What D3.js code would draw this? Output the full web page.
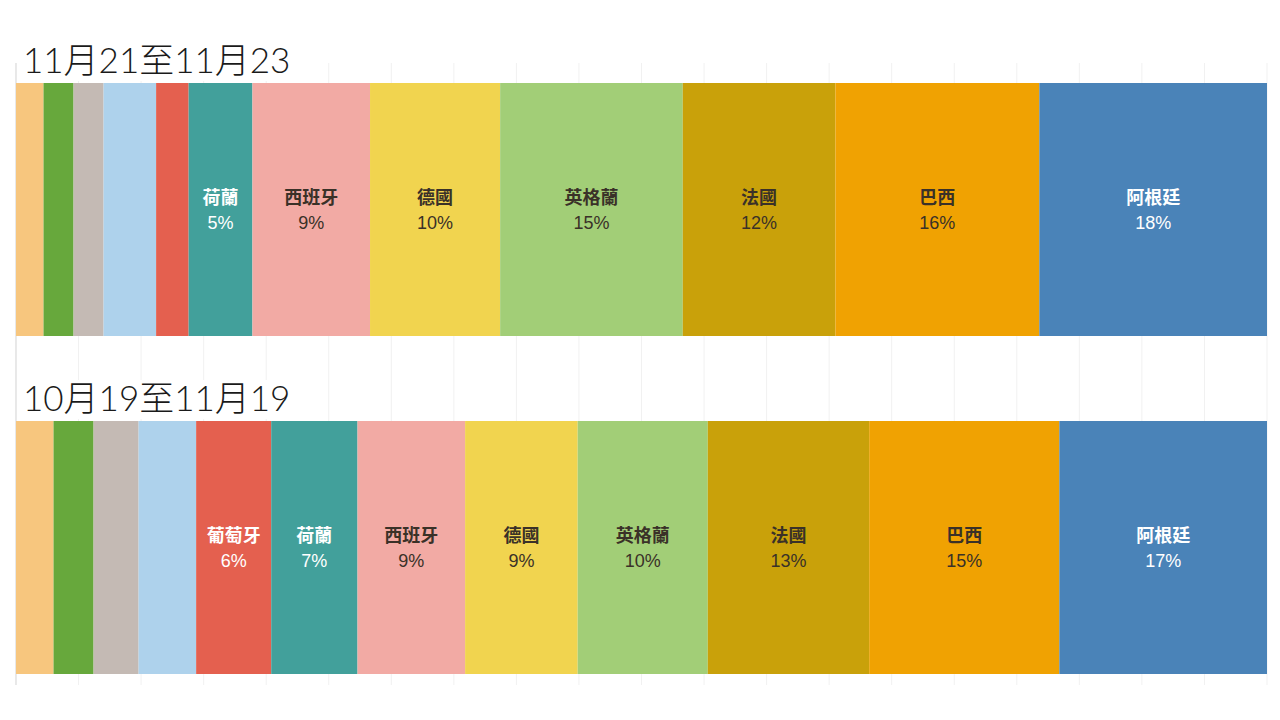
<!DOCTYPE html>
<html>
<head>
<meta charset="utf-8">
<script src="https://cdn.jsdelivr.net/npm/d3@7"></script>
<style>
  html, body { margin: 0; padding: 0; background: #ffffff; }
  svg { display: block; }
</style>
</head>
<body>
<svg id="chart" width="1280" height="720"></svg>
<script>
// ---- data ----
const periods = ["11月21至11月23", "10月19至11月19"];
const teams = ["比利時", "丹麥", "烏拉圭", "克羅地亞", "葡萄牙", "荷蘭", "西班牙", "德國", "英格蘭", "法國", "巴西", "阿根廷"];
const sharesRecent = [2.2, 2.4, 2.4, 4.2, 2.6, 5.1, 9.4, 10.4, 14.6, 12.2, 16.3, 18.2];
const sharesEarlier = [3.0, 3.2, 3.6, 4.6, 6.0, 6.9, 8.6, 9.0, 10.4, 12.9, 15.2, 16.6];
const teamColors = ["#F7C67E", "#67A83C", "#C4BAB4", "#AED2EC", "#E4604F", "#42A09B", "#F2AAA4", "#F1D44F", "#A2CE77", "#C9A10A", "#F0A202", "#4A83B8"];
const lightText = ["葡萄牙", "荷蘭", "阿根廷"];
const gridTicks = d3.range(0, 101, 5);

// ---- layout ----
const svg = d3.select("#chart");
const x = d3.scaleLinear().domain([0, 100]).range([16, 1267]);
const rows = [
  { title: periods[0], values: sharesRecent, barTop: 83, barBottom: 336, titleY: 73 },
  { title: periods[1], values: sharesEarlier, barTop: 421, barBottom: 674, titleY: 411 }
];
const color = d3.scaleOrdinal().domain(teams).range(teamColors);

// grid lines
svg.append("g")
  .selectAll("line")
  .data(gridTicks)
  .join("line")
  .attr("x1", d => x(d)).attr("x2", d => x(d))
  .attr("y1", 63).attr("y2", 685)
  .attr("stroke", "#f1f1f1")
  .attr("stroke-width", 1);

// axis line
svg.append("line")
  .attr("x1", x(0)).attr("x2", x(0))
  .attr("y1", 63).attr("y2", 685)
  .attr("stroke", "#d9d9d9")
  .attr("stroke-width", 1);

rows.forEach(row => {
  const segs = [];
  let acc = 0;
  row.values.forEach((v, i) => {
    segs.push({ team: teams[i], value: v, x0: acc, x1: acc + v });
    acc += v;
  });

  const g = svg.append("g");

  // title
  g.append("rect")
    .attr("x", 18).attr("y", row.titleY - 31)
    .attr("width", 284).attr("height", 39)
    .attr("fill", "#ffffff");
  g.append("text")
    .attr("x", 23).attr("y", row.titleY)
    .attr("font-family", "Lato, 'Noto Sans CJK TC', sans-serif")
    .attr("font-weight", 300)
    .attr("font-size", 35)
    .attr("fill", "#1a1a1a")
    .text(row.title);

  g.selectAll("rect.seg")
    .data(segs)
    .join("rect")
    .attr("class", "seg")
    .attr("x", d => x(d.x0))
    .attr("width", d => x(d.x1) - x(d.x0))
    .attr("y", row.barTop)
    .attr("height", row.barBottom - row.barTop)
    .attr("fill", d => color(d.team));

  const mid = (row.barTop + row.barBottom) / 2;
  const labelled = segs.filter(d => d.value >= 5);
  const lab = g.selectAll("g.lab")
    .data(labelled)
    .join("g")
    .attr("class", "lab")
    .attr("transform", d => `translate(${(x(d.x0) + x(d.x1)) / 2},0)`);

  lab.append("text")
    .attr("y", mid - 6)
    .attr("text-anchor", "middle")
    .attr("font-family", "'Noto Sans CJK TC', sans-serif")
    .attr("font-weight", 700)
    .attr("font-size", 18)
    .attr("fill", d => lightText.includes(d.team) ? "#ffffff" : "#3a3128")
    .text(d => d.team);

  lab.append("text")
    .attr("y", mid + 19)
    .attr("text-anchor", "middle")
    .attr("font-family", "'Liberation Sans', 'Noto Sans', sans-serif")
    .attr("font-size", 18)
    .attr("fill", d => lightText.includes(d.team) ? "#ffffff" : "#3a3128")
    .text(d => Math.round(d.value) + "%");
});
</script>
</body>
</html>
